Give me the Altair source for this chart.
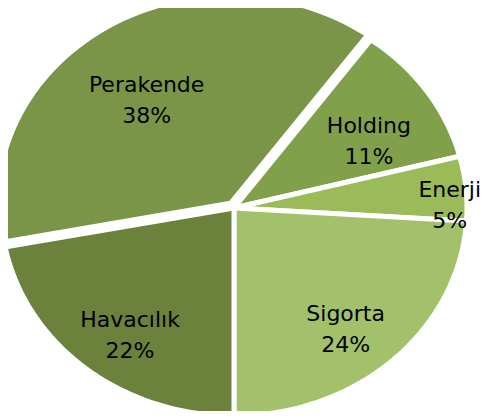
import altair as alt
import pandas as pd

categories = ["Holding", "Enerji", "Sigorta", "Havacılık", "Perakende"]
values = [11, 5, 24, 22, 38]
colors = ["#81A04A", "#9BBB59", "#A3C16B", "#6B813C", "#7A9548"]

df = pd.DataFrame({"category": categories, "value": values, "ord": list(range(len(categories)))})

START = 36 * 3.141592653589793 / 180  # first slice angle (radians, clockwise from 12 o'clock)
N = 60
EXPLODE = 0.027  # pull-out of the largest slice

base = alt.Chart(df).transform_window(
    cum="sum(value)", sort=[alt.SortField("ord")], frame=[None, 0]
).transform_joinaggregate(
    total="sum(value)", vmax="max(value)"
).transform_calculate(
    a0=f"{START} + 2*PI*(datum.cum - datum.value)/datum.total",
    a1=f"{START} + 2*PI*datum.cum/datum.total",
).transform_calculate(
    mid="(datum.a0 + datum.a1) / 2",
    ex=f"datum.value == datum.vmax ? {EXPLODE} : 0",
)

xs = alt.Scale(domain=[-0.97, 1.073], nice=False, zero=False)
ys = alt.Scale(domain=[-0.976, 0.9615], nice=False, zero=False)

slices = base.transform_calculate(
    pts=f"sequence(0, {N + 2})"
).transform_flatten(
    ["pts"]
).transform_calculate(
    ang=f"datum.a0 + (datum.a1 - datum.a0) * (datum.pts - 1) / {N}",
).transform_calculate(
    px="(datum.pts == 0 ? 0 : sin(datum.ang)) + datum.ex * sin(datum.mid)",
    py="(datum.pts == 0 ? 0 : cos(datum.ang)) + datum.ex * cos(datum.mid)",
).mark_line(
    interpolate="linear-closed", stroke="white", strokeWidth=5, strokeJoin="miter"
).encode(
    x=alt.X("px:Q", scale=xs, axis=None),
    y=alt.Y("py:Q", scale=ys, axis=None),
    detail="category:N",
    order="pts:Q",
    fill=alt.Fill("category:N", scale=alt.Scale(domain=categories, range=colors), legend=None),
)

labels = base.transform_calculate(
    r="datum.value / datum.total < 0.08 ? 0.93 : 0.7",
).transform_calculate(
    lx="datum.r * sin(datum.mid)",
    ly="datum.r * cos(datum.mid)",
    label="[datum.category, format(datum.value / datum.total, '.0%')]",
).mark_text(
    font="DejaVu Sans", fontSize=22, lineHeight=31, color="black", align="center", baseline="middle"
).encode(
    x=alt.X("lx:Q", scale=xs, axis=None),
    y=alt.Y("ly:Q", scale=ys, axis=None),
    text="label:N",
)

chart = alt.layer(slices, labels).properties(
    width=476, height=403, padding=0, autosize=alt.AutoSizeParams(type="none")
).configure_view(stroke=None)

chart.save("out.html", embed_options={"renderer": "svg", "actions": False})
